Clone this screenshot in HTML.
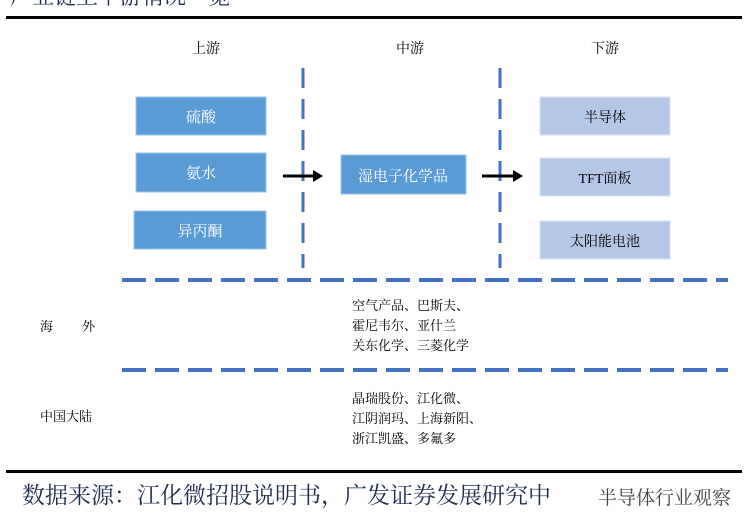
<!DOCTYPE html>
<html><head><meta charset="utf-8"><style>
html,body{margin:0;padding:0;background:#fff;}
svg{display:block;}
text{font-family:"Liberation Serif","Noto Serif CJK SC",serif;}
</style></head><body>
<svg width="748" height="530" viewBox="0 0 748 530" xmlns="http://www.w3.org/2000/svg">
<text x="10" y="4" font-size="22" fill="#1f2d4d">产业链上下游情况一览</text>
<rect x="6" y="16" width="736" height="3" fill="#000"/>
<rect x="6" y="470" width="736" height="3" fill="#000"/>
<g font-size="14" fill="#000" text-anchor="middle">
<text x="206" y="53">上游</text><text x="410" y="53">中游</text><text x="605" y="53">下游</text>
</g>
<g stroke="#4472c4" stroke-width="3" stroke-dasharray="20,11">
<line x1="303" y1="68" x2="303" y2="268"/>
<line x1="500" y1="68" x2="500" y2="268"/>
</g>
<g stroke="#4472c4" stroke-width="4" stroke-dasharray="24,9">
<line x1="122" y1="280" x2="728" y2="280"/>
<line x1="122" y1="370" x2="728" y2="370"/>
</g>
<g fill="#5b9bd5" stroke="#9dc3e6" stroke-width="1">
<rect x="136" y="97" width="130" height="38"/>
<rect x="136" y="153" width="130" height="39"/>
<rect x="134" y="211" width="132" height="38"/>
<rect x="341" y="155" width="125" height="39"/>
</g>
<g fill="#b4c7e7" stroke="#dae3f3" stroke-width="1">
<rect x="540" y="97" width="130" height="38"/>
<rect x="540" y="158" width="130" height="38"/>
<rect x="540" y="221" width="130" height="38"/>
</g>
<g font-size="15" fill="#fff" text-anchor="middle">
<text x="201" y="122">硫酸</text><text x="201" y="178">氨水</text><text x="200" y="236">异丙酮</text>
<text x="403" y="181">湿电子化学品</text>
</g>
<g font-size="14" fill="#000" text-anchor="middle">
<text x="605" y="122">半导体</text><text x="605" y="183">TFT面板</text><text x="605" y="246">太阳能电池</text>
</g>
<g stroke="#000" stroke-width="3">
<line x1="283" y1="176" x2="314" y2="176"/><line x1="482" y1="176" x2="514" y2="176"/>
</g>
<polygon points="313,170 323,176 313,182" fill="#000"/>
<polygon points="513,170 523,176 513,182" fill="#000"/>
<g font-size="13" fill="#000">
<text x="40" y="331">海</text><text x="82" y="331">外</text>
<text x="40" y="421">中国大陆</text>
<text x="352" y="310">空气产品、巴斯夫、</text>
<text x="352" y="330">霍尼韦尔、亚什兰</text>
<text x="352" y="350">关东化学、三菱化学</text>
<text x="352" y="403">晶瑞股份、江化微、</text>
<text x="352" y="423">江阴润玛、上海新阳、</text>
<text x="352" y="443">浙江凯盛、多氟多</text>
</g>
<text x="22" y="503" font-size="23" fill="#1f2d4d">数据来源：江化微招股说明书，广发证券发展研究中</text>
<text x="598" y="504" font-size="19" fill="#444" font-family="Liberation Sans,Noto Sans CJK SC,sans-serif">半导体行业观察</text>
</svg>
</body></html>
